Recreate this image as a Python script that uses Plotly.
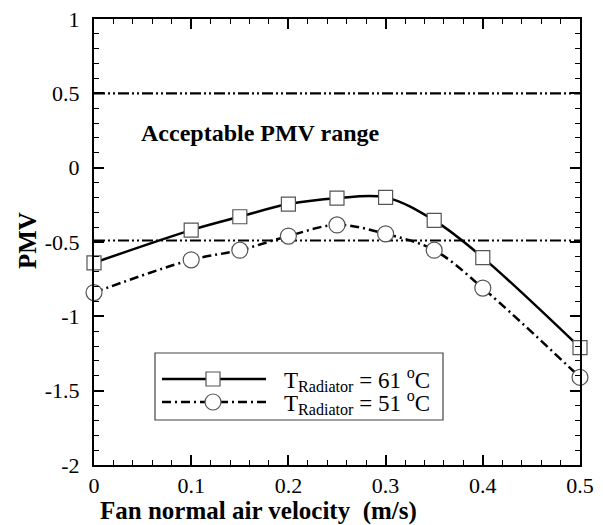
import plotly.graph_objects as go

# Fan normal air velocity (m/s)
velocity = [0.0, 0.1, 0.15, 0.2, 0.25, 0.3, 0.35, 0.4, 0.5]
# PMV for the two radiator temperatures
pmv_61 = [-0.64, -0.42, -0.33, -0.245, -0.205, -0.20, -0.355, -0.605, -1.21]
pmv_51 = [-0.84, -0.62, -0.555, -0.46, -0.385, -0.445, -0.555, -0.81, -1.41]
# Limits of the acceptable PMV band
pmv_limits = [0.5, -0.49]

# Axis ticks (plain hyphen for negatives)
x_ticks = [0, 0.1, 0.2, 0.3, 0.4, 0.5]
x_tick_text = ["0", "0.1", "0.2", "0.3", "0.4", "0.5"]
y_ticks = [1, 0.5, 0, -0.5, -1, -1.5, -2]
y_tick_text = ["1", "0.5", "0", "-0.5", "-1", "-1.5", "-2"]

series_labels = ["T<sub>Radiator</sub> = 61 <sup>o</sup>C",
                 "T<sub>Radiator</sub> = 51 <sup>o</sup>C"]

FONT = "Liberation Serif, Times New Roman, serif"
W, H = 603, 525
ML, MR, MT, MB = 94, 23, 19, 60
PW, PH = W - ML - MR, H - MT - MB

fig = go.Figure()

# Band limits
for lim in pmv_limits:
    fig.add_trace(go.Scatter(
        x=[0, 0.5], y=[lim, lim], mode="lines",
        line=dict(color="black", width=2.2, dash="11px,3px,2px,3px,2px,3px"),
        showlegend=False, hoverinfo="skip"))

line_styles = [
    dict(color="black", width=2.5, dash="solid", shape="spline"),
    dict(color="black", width=2.5, dash="9px,4px,2px,4px", shape="spline"),
]
marker_styles = [
    dict(symbol="square", size=14, color="white", line=dict(color="#555555", width=1.2)),
    dict(symbol="circle", size=16, color="white", line=dict(color="#555555", width=1.2)),
]
for vals, ls, ms, name in zip([pmv_61, pmv_51], line_styles, marker_styles, series_labels):
    fig.add_trace(go.Scatter(
        x=velocity, y=vals, mode="lines", line=ls, showlegend=False, name=name))
    fig.add_trace(go.Scatter(
        x=velocity, y=vals, mode="markers", marker=ms, cliponaxis=False,
        showlegend=False, name=name))


def px_x(p):
    return (p - ML) / PW


def px_y(p):
    return (H - MB - p) / PH


shapes = []
# Legend frame
shapes.append(dict(type="rect", xref="paper", yref="paper",
                   x0=px_x(155), x1=px_x(443), y0=px_y(420), y1=px_y(353),
                   line=dict(color="#444444", width=1.2), fillcolor="white", layer="above"))
legend_rows = [379, 402]
legend_dash = ["solid", "9px,4px,2px,4px"]
for row, dash in zip(legend_rows, legend_dash):
    shapes.append(dict(type="line", xref="paper", yref="paper",
                       x0=px_x(162), x1=px_x(266), y0=px_y(row), y1=px_y(row),
                       line=dict(color="black", width=2.5, dash=dash), layer="above"))
# Legend marker samples
cx = 213
shapes.append(dict(type="rect", xref="paper", yref="paper",
                   x0=px_x(cx - 7), x1=px_x(cx + 7), y0=px_y(legend_rows[0] + 7), y1=px_y(legend_rows[0] - 7),
                   line=dict(color="#555555", width=1.2), fillcolor="white", layer="above"))
shapes.append(dict(type="circle", xref="paper", yref="paper",
                   x0=px_x(cx - 8), x1=px_x(cx + 8), y0=px_y(legend_rows[1] + 8), y1=px_y(legend_rows[1] - 8),
                   line=dict(color="#555555", width=1.2), fillcolor="white", layer="above"))

annotations = []
for row, label in zip(legend_rows, series_labels):
    annotations.append(dict(xref="paper", yref="paper", x=px_x(282), y=px_y(row),
                            xanchor="left", yanchor="middle", text=label, showarrow=False,
                            font=dict(family=FONT, size=23, color="black")))
annotations.append(dict(xref="x", yref="y", x=0.046, y=0.23, xanchor="left", yanchor="middle",
                        text="<b>Acceptable PMV range</b>", showarrow=False,
                        font=dict(family=FONT, size=24, color="black")))
# Axis titles
annotations.append(dict(xref="paper", yref="paper", x=px_x(258), y=px_y(511),
                        xanchor="center", yanchor="middle",
                        text="<b>Fan normal air velocity  (m/s)</b>", showarrow=False,
                        font=dict(family=FONT, size=25, color="black")))
annotations.append(dict(xref="paper", yref="paper", x=px_x(27), y=px_y(241),
                        xanchor="center", yanchor="middle", textangle=-90,
                        text="<b>PMV</b>", showarrow=False,
                        font=dict(family=FONT, size=25, color="black")))

axis_common = dict(
    showline=True, linecolor="black", linewidth=2, mirror="ticks",
    ticks="inside", ticklen=10, tickwidth=2, tickcolor="black",
    showgrid=False, zeroline=False, automargin=False,
    tickfont=dict(family=FONT, size=22, color="black"),
)

fig.update_layout(
    width=W, height=H,
    margin=dict(l=ML, r=MR, t=MT, b=MB, autoexpand=False),
    plot_bgcolor="white", paper_bgcolor="white",
    shapes=shapes, annotations=annotations,
    xaxis=dict(range=[0, 0.5], tickmode="array", tickvals=x_ticks, ticktext=x_tick_text,
               minor=dict(dtick=0.02, tick0=0, ticks="inside", ticklen=5, tickwidth=1, tickcolor="black"),
               **axis_common),
    yaxis=dict(range=[-2, 1], tickmode="array", tickvals=y_ticks, ticktext=y_tick_text,
               ticklabelstandoff=8,
               minor=dict(dtick=0.1, tick0=0, ticks="inside", ticklen=5, tickwidth=1, tickcolor="black"),
               **axis_common),
)

fig.write_html("out.html")
